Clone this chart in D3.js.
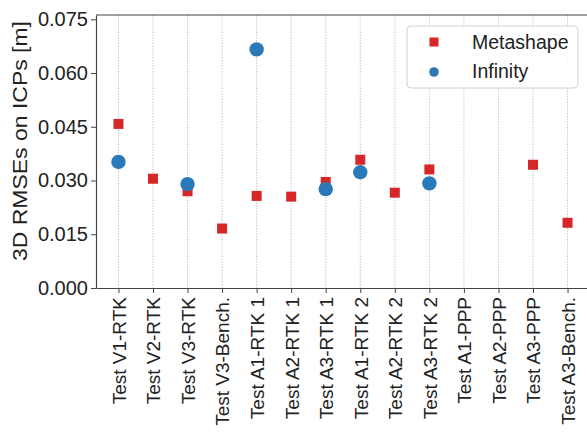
<!DOCTYPE html>
<html>
<head>
<meta charset="utf-8">
<script src="https://cdn.jsdelivr.net/npm/d3@7"></script>
<style>
  body { margin: 0; background: #fff; }
  svg { display: block; font-family: "Liberation Sans", Arial, sans-serif; }
</style>
</head>
<body>
<div id="chart"></div>
<script>
// data
const categories = [
  'Test V1-RTK', 'Test V2-RTK', 'Test V3-RTK', 'Test V3-Bench.',
  'Test A1-RTK 1', 'Test A2-RTK 1', 'Test A3-RTK 1',
  'Test A1-RTK 2', 'Test A2-RTK 2', 'Test A3-RTK 2',
  'Test A1-PPP', 'Test A2-PPP', 'Test A3-PPP', 'Test A3-Bench.'
];
const metashape = [0.0458, 0.0305, 0.0270, 0.0166, 0.0257, 0.0255, 0.0296,
  0.0358, 0.0266, 0.0331, null, null, 0.0344, 0.0182];
const infinity = [0.0352, null, 0.0290, null, 0.0666, null, 0.0276,
  0.0323, null, 0.0292, null, null, null, null];
const yTicks = [0, 0.015, 0.030, 0.045, 0.060, 0.075];

const W = 587, H = 434;
const margin = { top: 15, left: 96, bottom: 288, right: 590 };
const red = '#d62728', blue = '#2a7ab9';

const svg = d3.select('#chart').append('svg')
  .attr('width', W).attr('height', H);

const x = d3.scaleLinear()
  .domain([-0.65, categories.length - 1 + 0.65])
  .range([margin.left, margin.right]);
const y = d3.scaleLinear()
  .domain([0, 0.0762])
  .range([margin.bottom, margin.top]);

// vertical grid
svg.append('g')
  .selectAll('line')
  .data(categories)
  .enter().append('line')
  .attr('x1', (d, i) => x(i)).attr('x2', (d, i) => x(i))
  .attr('y1', margin.top).attr('y2', margin.bottom)
  .attr('stroke', '#aaa').attr('stroke-width', 0.8)
  .attr('stroke-dasharray', '1.2,1.6');

// axes
const xAxis = svg.append('g')
  .attr('transform', `translate(0,${margin.bottom})`)
  .call(d3.axisBottom(x)
    .tickValues(d3.range(categories.length))
    .tickFormat(i => categories[i])
    .tickSize(5).tickSizeOuter(0));
xAxis.selectAll('text')
  .attr('transform', 'rotate(-90)')
  .attr('text-anchor', 'end')
  .attr('x', -9).attr('y', 0).attr('dy', '0.36em');

const yAxis = svg.append('g')
  .attr('transform', `translate(${margin.left},0)`)
  .call(d3.axisLeft(y)
    .tickValues(yTicks)
    .tickFormat(d3.format('.3f'))
    .tickSize(5).tickSizeOuter(0));
yAxis.selectAll('text').attr('x', -8);

[xAxis, yAxis].forEach(g => {
  g.select('.domain').attr('stroke', '#444').attr('stroke-width', 1.2);
  g.selectAll('.tick line').attr('stroke', '#444').attr('stroke-width', 1);
  g.selectAll('text').attr('fill', '#222').style('font-size', '19px')
    .style('font-family', '"Liberation Sans", Arial, sans-serif');
});
yAxis.selectAll('text').style('font-size', '20px');

// top spine
svg.append('line')
  .attr('x1', margin.left).attr('x2', margin.right)
  .attr('y1', margin.top).attr('y2', margin.top)
  .attr('stroke', '#444').attr('stroke-width', 1.2);

// y label
svg.append('text')
  .attr('transform', 'translate(27,141) rotate(-90)')
  .attr('text-anchor', 'middle')
  .attr('textLength', 240).attr('lengthAdjust', 'spacingAndGlyphs')
  .style('font-size', '21px').attr('fill', '#222')
  .text('3D RMSEs on ICPs [m]');

// Metashape squares
const sq = 10;
svg.append('g').selectAll('rect')
  .data(metashape.map((v, i) => ({ v, i })).filter(d => d.v != null))
  .enter().append('rect')
  .attr('x', d => x(d.i) - sq / 2).attr('y', d => y(d.v) - sq / 2)
  .attr('width', sq).attr('height', sq)
  .attr('fill', red);

// Infinity circles
svg.append('g').selectAll('circle')
  .data(infinity.map((v, i) => ({ v, i })).filter(d => d.v != null))
  .enter().append('circle')
  .attr('cx', d => x(d.i)).attr('cy', d => y(d.v))
  .attr('r', 7.2)
  .attr('fill', blue);

// legend
const lg = svg.append('g');
lg.append('rect')
  .attr('x', 407).attr('y', 26).attr('width', 171).attr('height', 62)
  .attr('rx', 4).attr('fill', 'rgba(255,255,255,0.85)')
  .attr('stroke', '#d0d0d0');
lg.append('rect')
  .attr('x', 434 - 4.5).attr('y', 42 - 4.5).attr('width', 9).attr('height', 9)
  .attr('fill', red);
lg.append('circle')
  .attr('cx', 434).attr('cy', 72).attr('r', 4.8).attr('fill', blue);
lg.append('text').attr('x', 472).attr('y', 42).attr('dy', '0.35em')
  .style('font-size', '19.5px').attr('fill', '#222').text('Metashape');
lg.append('text').attr('x', 472).attr('y', 71).attr('dy', '0.35em')
  .style('font-size', '19.5px').attr('fill', '#222').text('Infinity');
</script>
</body>
</html>
